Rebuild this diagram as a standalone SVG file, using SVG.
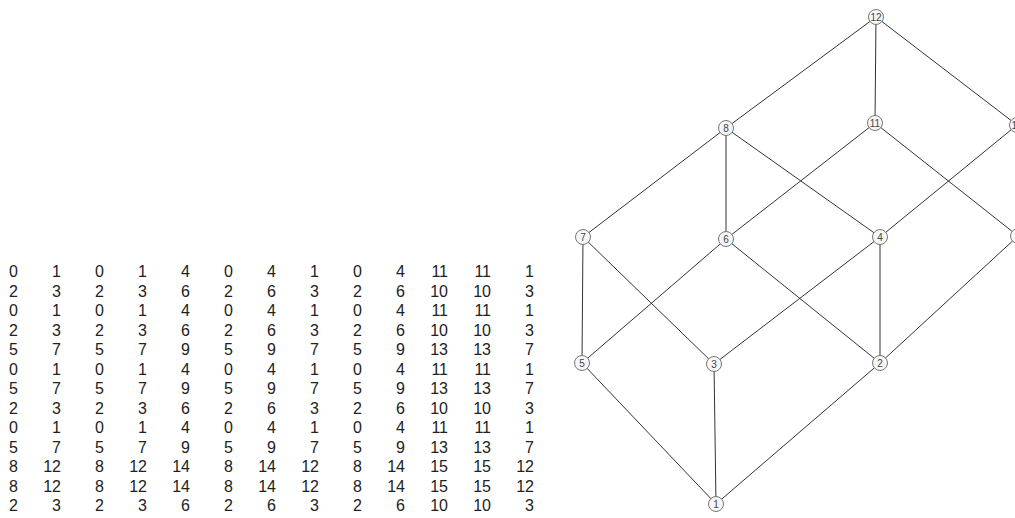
<svg xmlns="http://www.w3.org/2000/svg" width="1015" height="518" viewBox="0 0 1015 518">
<style>
.t{font-family:"Liberation Sans",Arial,sans-serif;font-size:16px;fill:#222;text-anchor:end}
.e{stroke:#333;stroke-width:1;fill:none}
.n circle{fill:#f6f6f6;stroke:#777;stroke-width:1}
.n text{font-family:"Liberation Sans",Arial,sans-serif;font-size:10px;fill:#444;text-anchor:middle}
</style>
<rect width="1015" height="518" fill="#fff"/>
<g id="table" class="t">
<text y="277"><tspan x="18">0</tspan><tspan x="61">1</tspan><tspan x="104">0</tspan><tspan x="147">1</tspan><tspan x="190">4</tspan><tspan x="233">0</tspan><tspan x="276">4</tspan><tspan x="319">1</tspan><tspan x="362">0</tspan><tspan x="405">4</tspan><tspan x="448">11</tspan><tspan x="491">11</tspan><tspan x="534">1</tspan></text>
<text y="296.5"><tspan x="18">2</tspan><tspan x="61">3</tspan><tspan x="104">2</tspan><tspan x="147">3</tspan><tspan x="190">6</tspan><tspan x="233">2</tspan><tspan x="276">6</tspan><tspan x="319">3</tspan><tspan x="362">2</tspan><tspan x="405">6</tspan><tspan x="448">10</tspan><tspan x="491">10</tspan><tspan x="534">3</tspan></text>
<text y="316"><tspan x="18">0</tspan><tspan x="61">1</tspan><tspan x="104">0</tspan><tspan x="147">1</tspan><tspan x="190">4</tspan><tspan x="233">0</tspan><tspan x="276">4</tspan><tspan x="319">1</tspan><tspan x="362">0</tspan><tspan x="405">4</tspan><tspan x="448">11</tspan><tspan x="491">11</tspan><tspan x="534">1</tspan></text>
<text y="335.5"><tspan x="18">2</tspan><tspan x="61">3</tspan><tspan x="104">2</tspan><tspan x="147">3</tspan><tspan x="190">6</tspan><tspan x="233">2</tspan><tspan x="276">6</tspan><tspan x="319">3</tspan><tspan x="362">2</tspan><tspan x="405">6</tspan><tspan x="448">10</tspan><tspan x="491">10</tspan><tspan x="534">3</tspan></text>
<text y="355"><tspan x="18">5</tspan><tspan x="61">7</tspan><tspan x="104">5</tspan><tspan x="147">7</tspan><tspan x="190">9</tspan><tspan x="233">5</tspan><tspan x="276">9</tspan><tspan x="319">7</tspan><tspan x="362">5</tspan><tspan x="405">9</tspan><tspan x="448">13</tspan><tspan x="491">13</tspan><tspan x="534">7</tspan></text>
<text y="374.5"><tspan x="18">0</tspan><tspan x="61">1</tspan><tspan x="104">0</tspan><tspan x="147">1</tspan><tspan x="190">4</tspan><tspan x="233">0</tspan><tspan x="276">4</tspan><tspan x="319">1</tspan><tspan x="362">0</tspan><tspan x="405">4</tspan><tspan x="448">11</tspan><tspan x="491">11</tspan><tspan x="534">1</tspan></text>
<text y="394"><tspan x="18">5</tspan><tspan x="61">7</tspan><tspan x="104">5</tspan><tspan x="147">7</tspan><tspan x="190">9</tspan><tspan x="233">5</tspan><tspan x="276">9</tspan><tspan x="319">7</tspan><tspan x="362">5</tspan><tspan x="405">9</tspan><tspan x="448">13</tspan><tspan x="491">13</tspan><tspan x="534">7</tspan></text>
<text y="413.5"><tspan x="18">2</tspan><tspan x="61">3</tspan><tspan x="104">2</tspan><tspan x="147">3</tspan><tspan x="190">6</tspan><tspan x="233">2</tspan><tspan x="276">6</tspan><tspan x="319">3</tspan><tspan x="362">2</tspan><tspan x="405">6</tspan><tspan x="448">10</tspan><tspan x="491">10</tspan><tspan x="534">3</tspan></text>
<text y="433"><tspan x="18">0</tspan><tspan x="61">1</tspan><tspan x="104">0</tspan><tspan x="147">1</tspan><tspan x="190">4</tspan><tspan x="233">0</tspan><tspan x="276">4</tspan><tspan x="319">1</tspan><tspan x="362">0</tspan><tspan x="405">4</tspan><tspan x="448">11</tspan><tspan x="491">11</tspan><tspan x="534">1</tspan></text>
<text y="452.5"><tspan x="18">5</tspan><tspan x="61">7</tspan><tspan x="104">5</tspan><tspan x="147">7</tspan><tspan x="190">9</tspan><tspan x="233">5</tspan><tspan x="276">9</tspan><tspan x="319">7</tspan><tspan x="362">5</tspan><tspan x="405">9</tspan><tspan x="448">13</tspan><tspan x="491">13</tspan><tspan x="534">7</tspan></text>
<text y="472"><tspan x="18">8</tspan><tspan x="61">12</tspan><tspan x="104">8</tspan><tspan x="147">12</tspan><tspan x="190">14</tspan><tspan x="233">8</tspan><tspan x="276">14</tspan><tspan x="319">12</tspan><tspan x="362">8</tspan><tspan x="405">14</tspan><tspan x="448">15</tspan><tspan x="491">15</tspan><tspan x="534">12</tspan></text>
<text y="491.5"><tspan x="18">8</tspan><tspan x="61">12</tspan><tspan x="104">8</tspan><tspan x="147">12</tspan><tspan x="190">14</tspan><tspan x="233">8</tspan><tspan x="276">14</tspan><tspan x="319">12</tspan><tspan x="362">8</tspan><tspan x="405">14</tspan><tspan x="448">15</tspan><tspan x="491">15</tspan><tspan x="534">12</tspan></text>
<text y="511"><tspan x="18">2</tspan><tspan x="61">3</tspan><tspan x="104">2</tspan><tspan x="147">3</tspan><tspan x="190">6</tspan><tspan x="233">2</tspan><tspan x="276">6</tspan><tspan x="319">3</tspan><tspan x="362">2</tspan><tspan x="405">6</tspan><tspan x="448">10</tspan><tspan x="491">10</tspan><tspan x="534">3</tspan></text>
</g>
<g id="connectors" class="e">
<line x1="876" y1="17" x2="726" y2="128"/>
<line x1="876" y1="17" x2="875" y2="123"/>
<line x1="876" y1="17" x2="1017" y2="125"/>
<line x1="726" y1="128" x2="583" y2="237"/>
<line x1="726" y1="128" x2="726" y2="239"/>
<line x1="726" y1="128" x2="880" y2="237"/>
<line x1="875" y1="123" x2="726" y2="239"/>
<line x1="875" y1="123" x2="1018" y2="236"/>
<line x1="1017" y1="125" x2="880" y2="237"/>
<line x1="583" y1="237" x2="582" y2="363"/>
<line x1="583" y1="237" x2="714" y2="364"/>
<line x1="726" y1="239" x2="582" y2="363"/>
<line x1="726" y1="239" x2="880" y2="363"/>
<line x1="880" y1="237" x2="714" y2="364"/>
<line x1="880" y1="237" x2="880" y2="363"/>
<line x1="1018" y1="236" x2="880" y2="363"/>
<line x1="582" y1="363" x2="716" y2="504"/>
<line x1="714" y1="364" x2="716" y2="504"/>
<line x1="880" y1="363" x2="716" y2="504"/>
</g>
<g id="n12" class="n"><circle cx="876" cy="17" r="7.5"/><text x="876" y="20.5">12</text></g>
<g id="n8" class="n"><circle cx="726" cy="128" r="7.5"/><text x="726" y="131.5">8</text></g>
<g id="n11" class="n"><circle cx="875" cy="123" r="7.5"/><text x="875" y="126.5">11</text></g>
<g id="n10" class="n"><circle cx="1017" cy="125" r="7.5"/><text x="1017" y="128.5">10</text></g>
<g id="n7" class="n"><circle cx="583" cy="237" r="7.5"/><text x="583" y="240.5">7</text></g>
<g id="n6" class="n"><circle cx="726" cy="239" r="7.5"/><text x="726" y="242.5">6</text></g>
<g id="n4" class="n"><circle cx="880" cy="237" r="7.5"/><text x="880" y="240.5">4</text></g>
<g id="n9" class="n"><circle cx="1018" cy="236" r="7.5"/><text x="1018" y="239.5">9</text></g>
<g id="n5" class="n"><circle cx="582" cy="363" r="7.5"/><text x="582" y="366.5">5</text></g>
<g id="n3" class="n"><circle cx="714" cy="364" r="7.5"/><text x="714" y="367.5">3</text></g>
<g id="n2" class="n"><circle cx="880" cy="363" r="7.5"/><text x="880" y="366.5">2</text></g>
<g id="n1" class="n"><circle cx="716" cy="504" r="7.5"/><text x="716" y="507.5">1</text></g>
</svg>
